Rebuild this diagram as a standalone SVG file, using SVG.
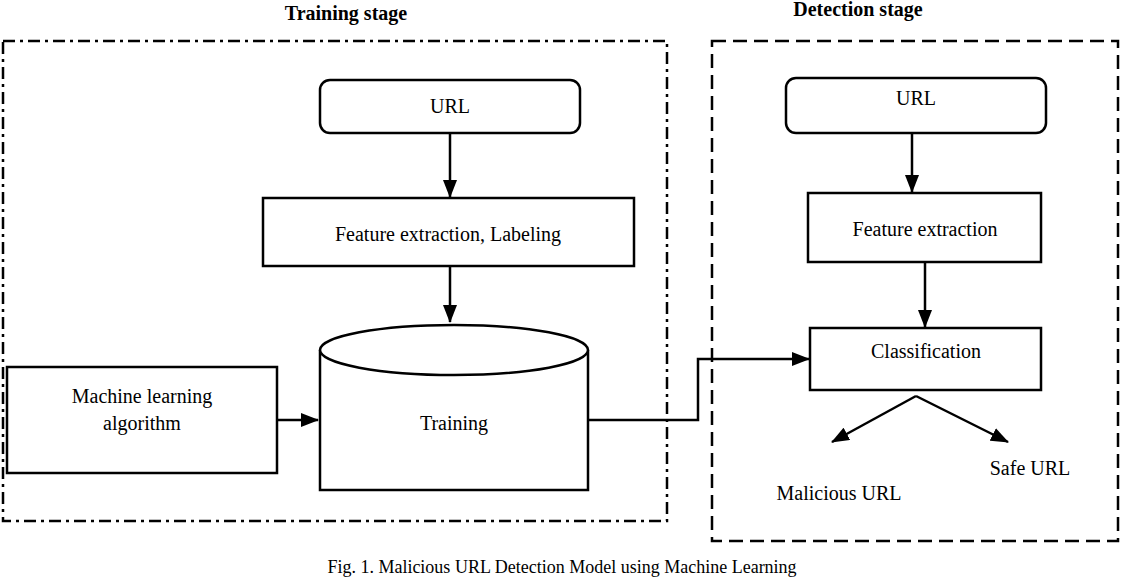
<svg xmlns="http://www.w3.org/2000/svg" width="1122" height="578" viewBox="0 0 1122 578">
<style>
text{font-family:"Liberation Serif","Times New Roman",serif;font-size:20px;fill:#000;text-anchor:middle}
.b{font-weight:bold}
.n{fill:#fff;stroke:#000;stroke-width:2.5}
.c{fill:none;stroke:#000;stroke-width:2.5}
</style>
<defs>
<marker id="a2" markerWidth="18" markerHeight="14" refX="17" refY="7" orient="auto" markerUnits="userSpaceOnUse" viewBox="0 0 18 14"><path d="M0,0 L18,7 L0,14 z" fill="#000"/></marker></defs>
<rect width="1122" height="578" fill="#fff"/>
<g id="training-stage"><rect x="3" y="41" width="664" height="480" fill="none" stroke="#000" stroke-width="2.5" stroke-dasharray="12,5,3,5"/><text class="b" x="346" y="20">Training stage</text></g>
<g id="detection-stage"><rect x="712" y="41" width="406" height="500" fill="none" stroke="#000" stroke-width="2.5" stroke-dasharray="14,7"/><text class="b" x="858" y="16">Detection stage</text></g>
<g id="t-url"><rect class="n" x="320" y="80" width="260" height="53" rx="10"/><text x="450" y="113">URL</text></g>
<g id="t-feat"><rect class="n" x="263" y="198" width="371" height="68"/><text x="448" y="241">Feature extraction, Labeling</text></g>
<g id="training"><path class="n" d="M320,350 L320,490 L588,490 L588,350"/><ellipse class="n" cx="454" cy="350" rx="134" ry="25"/><text x="454" y="430">Training</text></g>
<g id="ml"><rect class="n" x="7" y="367" width="270" height="106"/><text x="142" y="403">Machine learning</text><text x="142" y="430">algorithm</text></g>
<g id="d-url"><rect class="n" x="786" y="78" width="260" height="55" rx="10"/><text x="916" y="105">URL</text></g>
<g id="d-feat"><rect class="n" x="808" y="193" width="233" height="69"/><text x="925" y="236">Feature extraction</text></g>
<g id="classif"><rect class="n" x="810" y="328" width="231" height="62"/><text x="926" y="358">Classification</text></g>
<g id="mal"><text x="839" y="500">Malicious URL</text></g>
<g id="safe"><text x="1030" y="475">Safe URL</text></g>
<g id="connectors">
<line class="c" x1="450" y1="133" x2="450" y2="197" marker-end="url(#a2)"/>
<line class="c" x1="450" y1="266" x2="450" y2="322" marker-end="url(#a2)"/>
<line class="c" x1="277" y1="420" x2="318" y2="420" marker-end="url(#a2)"/>
<polyline class="c" points="588,420 698,420 698,359 809,359" marker-end="url(#a2)"/>
<line class="c" x1="912" y1="133" x2="912" y2="192" marker-end="url(#a2)"/>
<line class="c" x1="925" y1="262" x2="925" y2="327" marker-end="url(#a2)"/>
<line class="c" x1="916" y1="396" x2="832" y2="442" marker-end="url(#a2)"/>
<line class="c" x1="916" y1="396" x2="1008" y2="442" marker-end="url(#a2)"/>
</g>
<text x="562" y="573" style="font-size:18px">Fig. 1.    Malicious URL Detection Model using Machine Learning</text>
</svg>
